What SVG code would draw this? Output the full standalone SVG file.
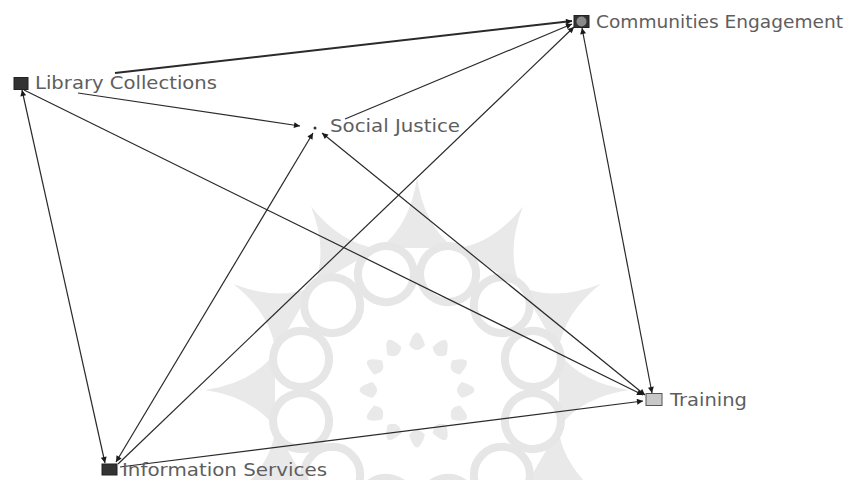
<svg xmlns="http://www.w3.org/2000/svg" xmlns:xlink="http://www.w3.org/1999/xlink" width="859" height="480" viewBox="0 0 859 480">
<style>
.edge{fill:none;stroke:#2a2a2a;stroke-width:1.2}
.thick{stroke-width:2}
.lbl{font-family:"DejaVu Sans",Verdana,sans-serif;font-size:17px;fill:#5e5e5e}
.wm{fill:none;stroke:#e6e6e6;stroke-width:8}
.spike{fill:#e9e9e9}
</style>
<defs>
<marker id="arr" viewBox="0 0 10 10" refX="10" refY="5" markerWidth="8" markerHeight="6" markerUnits="userSpaceOnUse" orient="auto-start-reverse">
<path d="M0,0 L10,5 L0,10 Z" fill="#1a1a1a"/>
</marker>
<circle id="wc" cx="417" cy="270" r="28"/>
<path id="ws" d="M380,248 Q410,225 417,178 Q424,225 454,248 Z"/>
<path id="wp" d="M409,345 Q417,320 425,345 Q417,355 409,345 Z"/>
</defs>
<rect width="859" height="480" fill="#ffffff"/>
<g id="watermark">
<g class="spike">
<use xlink:href="#ws" transform="rotate(0 417 390)"/>
<use xlink:href="#ws" transform="rotate(30 417 390)"/>
<use xlink:href="#ws" transform="rotate(60 417 390)"/>
<use xlink:href="#ws" transform="rotate(90 417 390)"/>
<use xlink:href="#ws" transform="rotate(120 417 390)"/>
<use xlink:href="#ws" transform="rotate(150 417 390)"/>
<use xlink:href="#ws" transform="rotate(180 417 390)"/>
<use xlink:href="#ws" transform="rotate(210 417 390)"/>
<use xlink:href="#ws" transform="rotate(240 417 390)"/>
<use xlink:href="#ws" transform="rotate(270 417 390)"/>
<use xlink:href="#ws" transform="rotate(300 417 390)"/>
<use xlink:href="#ws" transform="rotate(330 417 390)"/>
</g>
<g class="wm">
<use xlink:href="#wc" transform="rotate(15 417 390)"/>
<use xlink:href="#wc" transform="rotate(45 417 390)"/>
<use xlink:href="#wc" transform="rotate(75 417 390)"/>
<use xlink:href="#wc" transform="rotate(105 417 390)"/>
<use xlink:href="#wc" transform="rotate(135 417 390)"/>
<use xlink:href="#wc" transform="rotate(165 417 390)"/>
<use xlink:href="#wc" transform="rotate(195 417 390)"/>
<use xlink:href="#wc" transform="rotate(225 417 390)"/>
<use xlink:href="#wc" transform="rotate(255 417 390)"/>
<use xlink:href="#wc" transform="rotate(285 417 390)"/>
<use xlink:href="#wc" transform="rotate(315 417 390)"/>
<use xlink:href="#wc" transform="rotate(345 417 390)"/>
</g>
<g class="spike">
<use xlink:href="#wp" transform="rotate(0 417 390)"/>
<use xlink:href="#wp" transform="rotate(30 417 390)"/>
<use xlink:href="#wp" transform="rotate(60 417 390)"/>
<use xlink:href="#wp" transform="rotate(90 417 390)"/>
<use xlink:href="#wp" transform="rotate(120 417 390)"/>
<use xlink:href="#wp" transform="rotate(150 417 390)"/>
<use xlink:href="#wp" transform="rotate(180 417 390)"/>
<use xlink:href="#wp" transform="rotate(210 417 390)"/>
<use xlink:href="#wp" transform="rotate(240 417 390)"/>
<use xlink:href="#wp" transform="rotate(270 417 390)"/>
<use xlink:href="#wp" transform="rotate(300 417 390)"/>
<use xlink:href="#wp" transform="rotate(330 417 390)"/>
</g>
</g>
<g id="connectors">
<path class="edge thick" d="M115,73 L572,21" marker-end="url(#arr)"/>
<path class="edge" d="M78,93 L300,126" marker-end="url(#arr)"/>
<path class="edge" d="M24,90 L643,395" marker-end="url(#arr)"/>
<path class="edge" d="M22,90 L105,463" marker-start="url(#arr)" marker-end="url(#arr)"/>
<path class="edge" d="M345,119 L572,24" marker-end="url(#arr)"/>
<path class="edge" d="M322,133 L645,395" marker-start="url(#arr)" marker-end="url(#arr)"/>
<path class="edge" d="M116,462 L313,133" marker-start="url(#arr)" marker-end="url(#arr)"/>
<path class="edge" d="M118,464 L574,27" marker-end="url(#arr)"/>
<path class="edge" d="M120,467 L643,401" marker-end="url(#arr)"/>
<path class="edge" d="M582,28 L652,393" marker-start="url(#arr)" marker-end="url(#arr)"/>
</g>
<g id="library-collections">
<rect x="14" y="77.5" width="14" height="12" fill="#333" stroke="#222"/>
<text class="lbl" x="35" y="89" textLength="182" lengthAdjust="spacingAndGlyphs">Library Collections</text>
</g>
<g id="social-justice">
<circle cx="315" cy="128" r="1.5" fill="#333"/>
<text class="lbl" x="330" y="132" textLength="130" lengthAdjust="spacingAndGlyphs">Social Justice</text>
</g>
<g id="communities-engagement">
<rect x="574" y="15.5" width="15" height="12" fill="#333" stroke="#222"/>
<circle cx="581.5" cy="21.5" r="5" fill="#8a8a8a"/>
<text class="lbl" x="596" y="28" textLength="247" lengthAdjust="spacingAndGlyphs">Communities Engagement</text>
</g>
<g id="training">
<rect x="646" y="393.5" width="16" height="12" fill="#c8c8c8" stroke="#555"/>
<text class="lbl" x="670" y="406" textLength="77" lengthAdjust="spacingAndGlyphs">Training</text>
</g>
<g id="information-services">
<rect x="102" y="464" width="15" height="11" fill="#333" stroke="#222"/>
<text class="lbl" x="122" y="476" textLength="205" lengthAdjust="spacingAndGlyphs">Information Services</text>
</g>
</svg>
